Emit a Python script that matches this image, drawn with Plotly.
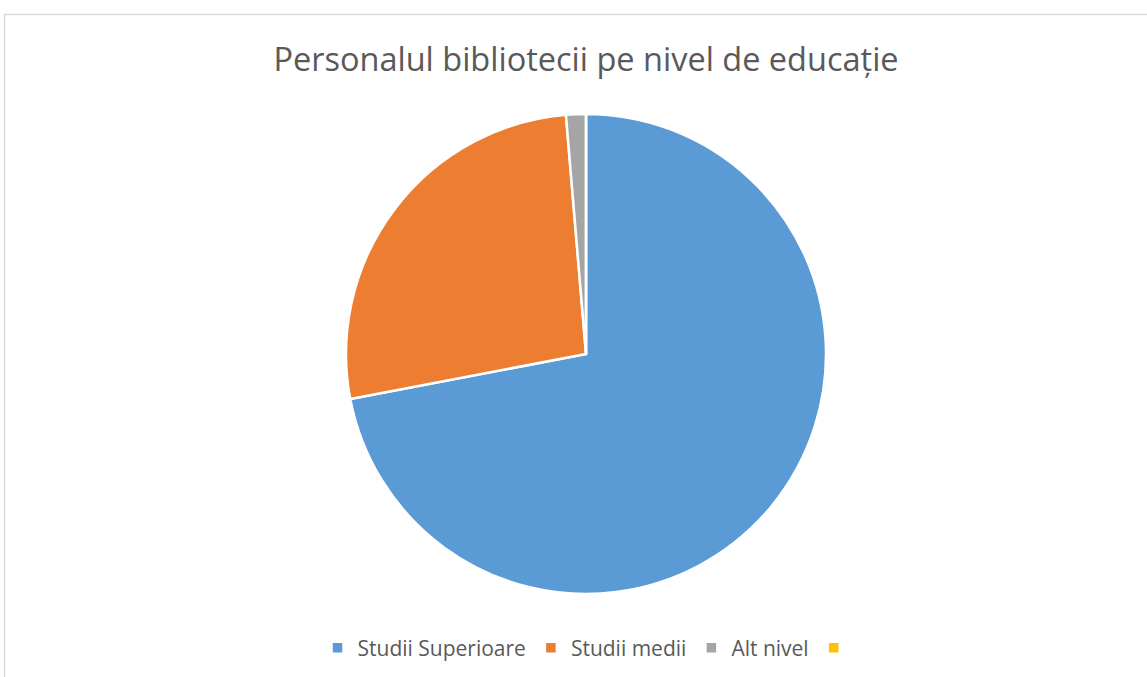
import plotly.graph_objects as go

categories = ["Studii Superioare", "Studii medii", "Alt nivel", " "]
values = [54, 20, 1, 0]
colors = ["#5B9BD5", "#ED7D31", "#A5A5A5", "#FFC000"]

W, H = 1147, 677
cx, cy, r = 586, 354, 240

fig = go.Figure(go.Pie(
    labels=categories,
    values=values,
    sort=False,
    direction="clockwise",
    rotation=0,
    textinfo="none",
    hoverinfo="label+value+percent",
    marker=dict(colors=colors, line=dict(color="white", width=2.5)),
    domain=dict(x=[(cx - r) / W, (cx + r) / W], y=[(H - cy - r) / H, (H - cy + r) / H]),
))

fig.update_layout(
    width=W, height=H,
    margin=dict(l=0, r=0, t=0, b=0),
    paper_bgcolor="white",
    plot_bgcolor="white",
    title=dict(text="Personalul bibliotecii pe nivel de educație",
               x=586 / W, xanchor="center", y=1 - 60 / H, yanchor="middle",
               font=dict(family="Open Sans", size=32.5, color="#595959")),
    legend=dict(orientation="h", x=591 / W, xanchor="center", y=1 - 648 / H, yanchor="middle",
                font=dict(family="Open Sans", size=21, color="#595959"),
                itemwidth=30, traceorder="normal"),
    shapes=[dict(type="rect", xref="paper", yref="paper",
                 x0=4.5 / W, x1=1.01, y0=-0.05, y1=1 - 14.5 / H,
                 line=dict(color="#D9D9D9", width=1.5), fillcolor="rgba(0,0,0,0)")],
)

fig.write_html("out.html",
               config={"displayModeBar": False},
               post_script="document.body.style.margin='0';document.body.style.overflow='hidden';")
